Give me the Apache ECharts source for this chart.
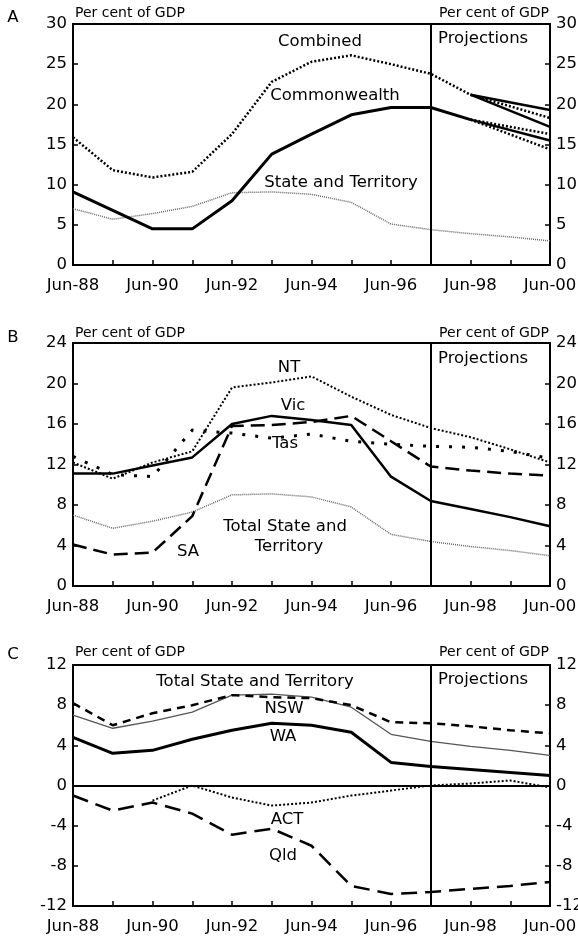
<!DOCTYPE html>
<html>
<head>
<meta charset="utf-8">
<script src="https://cdn.jsdelivr.net/npm/echarts@6/dist/echarts.min.js"></script>
<style>
html,body{margin:0;padding:0;background:#fff;}
#chart{width:578px;height:937px;}
</style>
</head>
<body>
<div id="chart"></div>
<script>
// ---- categories ----
const years = ['Jun-88','Jun-89','Jun-90','Jun-91','Jun-92','Jun-93','Jun-94','Jun-95','Jun-96','Jun-97','Jun-98','Jun-99','Jun-00'];

// ---- Panel A (per cent of GDP) ----
const combined      = [15.9, 11.8, 10.9, 11.6, 16.3, 22.8, 25.3, 26.1, 25.0, 23.8, 21.2, null, null];
const combinedProjA = [null, null, null, null, null, null, null, null, null, null, 21.2, null, 19.3];
const combinedProjB = [null, null, null, null, null, null, null, null, null, null, 21.2, null, 18.3];
const combinedProjC = [null, null, null, null, null, null, null, null, null, null, 21.2, null, 17.2];
const commonwealth  = [9.1, 6.8, 4.5, 4.5, 8.0, 13.8, 16.3, 18.7, 19.6, 19.6, 18.1, null, null];
const cwProjA       = [null, null, null, null, null, null, null, null, null, null, 18.1, null, 16.3];
const cwProjB       = [null, null, null, null, null, null, null, null, null, null, 18.1, null, 15.5];
const cwProjC       = [null, null, null, null, null, null, null, null, null, null, 18.1, null, 14.4];
const stateTotal    = [7.0, 5.7, 6.4, 7.3, 9.0, 9.1, 8.8, 7.8, 5.1, 4.4, 3.9, 3.5, 3.0];

// ---- Panel B ----
const nt  = [12.2, 10.6, 12.2, 13.3, 19.6, 20.1, 20.7, 18.7, 16.9, 15.6, 14.7, 13.5, 12.2];
const vic = [11.1, 11.1, 11.9, 12.7, 16.0, 16.8, 16.4, 15.9, 10.8, 8.4, 7.6, 6.8, 5.9];
const sa  = [4.1, 3.1, 3.3, 6.9, 15.8, 15.9, 16.2, 16.8, 14.3, 11.8, 11.4, 11.1, 10.9];
const tas = [12.8, 11.0, 10.8, 15.4, 15.1, 14.6, 15.0, 14.3, 14.0, 13.8, 13.7, 13.3, 12.6];

// ---- Panel C ----
const nsw = [8.2, 6.0, 7.2, 8.0, 9.0, 8.8, 8.7, 8.0, 6.3, 6.2, 5.9, 5.5, 5.2];
const wa  = [4.8, 3.2, 3.5, 4.6, 5.5, 6.2, 6.0, 5.3, 2.3, 1.9, 1.6, 1.3, 1.0];
const act = [null, null, -1.5, 0.0, -1.2, -2.0, -1.7, -1.0, -0.5, 0.0, 0.2, 0.5, -0.2];
const qld = [-1.0, -2.5, -1.7, -2.8, -4.9, -4.3, -6.0, -10.0, -10.8, -10.6, -10.3, -10.0, -9.6];

// ---- axis scales ----
const yA = {min: 0, max: 30, interval: 5};
const yB = {min: 0, max: 24, interval: 4};
const yC = {min: -12, max: 12, interval: 4};

const FONT = '"DejaVu Sans", sans-serif';
const FS = 16.5;

const grids = [
  {left: 73, right: 28, top: 24, height: 241},
  {left: 73, right: 28, top: 343, height: 243},
  {left: 73, right: 28, top: 665, height: 241}
];

function xAxisFor(i) {
  return {
    type: 'category', gridIndex: i, data: years, boundaryGap: false,
    axisLine: {onZero: false, lineStyle: {color: '#000', width: 2}},
    axisTick: {inside: true, length: 5, interval: 0, lineStyle: {color: '#000', width: 1.5}},
    axisLabel: {interval: 1, margin: 12, color: '#000', fontFamily: FONT, fontSize: FS},
    splitLine: {show: false}
  };
}
function yAxisFor(i, sc, pos) {
  return {
    type: 'value', gridIndex: i, position: pos, min: sc.min, max: sc.max, interval: sc.interval,
    axisLine: {show: true, onZero: false, lineStyle: {color: '#000', width: 2}},
    axisTick: {show: true, inside: true, length: 5, lineStyle: {color: '#000', width: 1.5}},
    axisLabel: {margin: 6, color: '#000', fontFamily: FONT, fontSize: FS},
    splitLine: {show: false}
  };
}

function line(name, data, xi, yi, style, extra) {
  return Object.assign({
    name: name, type: 'line', xAxisIndex: xi, yAxisIndex: yi, data: data,
    symbol: 'none', connectNulls: true, silent: true,
    lineStyle: Object.assign({color: '#000', width: 2.5, type: 'solid'}, style)
  }, extra || {});
}

const vline = {
  symbol: 'none', silent: true, label: {show: false},
  lineStyle: {color: '#000', type: 'solid', width: 2},
  data: [{xAxis: 'Jun-97'}]
};
const vlineZero = {
  symbol: 'none', silent: true, label: {show: false},
  lineStyle: {color: '#000', type: 'solid', width: 2},
  data: [{xAxis: 'Jun-97'}, {yAxis: 0}]
};

const fineDot = {color: '#666', width: 1.5, type: [1, 1]};
const dot = {width: 2.5, type: [2, 2]};

const series = [
  // Panel A
  line('State and Territory', stateTotal, 0, 0, fineDot, {markLine: vline}),
  line('Combined', combined, 0, 0, dot),
  line('Combined proj 1', combinedProjA, 0, 0, {width: 2.5}),
  line('Combined proj 2', combinedProjB, 0, 0, dot),
  line('Combined proj 3', combinedProjC, 0, 0, {width: 2.5}),
  line('Commonwealth', commonwealth, 0, 0, {width: 3}),
  line('Commonwealth proj 1', cwProjA, 0, 0, dot),
  line('Commonwealth proj 2', cwProjB, 0, 0, {width: 2.5}),
  line('Commonwealth proj 3', cwProjC, 0, 0, dot),
  // Panel B
  line('Total State and Territory', stateTotal, 1, 2, fineDot, {markLine: vline}),
  line('NT', nt, 1, 2, {width: 2, type: [2, 2]}),
  line('Tas', tas, 1, 2, {width: 3, type: [3, 10]}),
  line('SA', sa, 1, 2, {width: 2.5, type: [14, 7]}),
  line('Vic', vic, 1, 2, {width: 2.5}),
  // Panel C
  line('Total State and Territory C', stateTotal, 2, 4, {color: '#555', width: 1.3}, {markLine: vlineZero}),
  line('NSW', nsw, 2, 4, {width: 2.5, type: [8, 6]}),
  line('WA', wa, 2, 4, {width: 3}),
  line('ACT', act, 2, 4, {width: 2, type: [2, 2]}),
  line('Qld', qld, 2, 4, {width: 2.5, type: [16, 8]})
];

function txt(t, x, y, opts) {
  return {
    type: 'text', x: x, y: y, silent: true,
    style: Object.assign({text: t, fill: '#000', font: FS + 'px ' + FONT, align: 'center', verticalAlign: 'middle'}, opts || {})
  };
}
const small = {font: '14px ' + FONT};

const graphics = [
  // panel letters
  txt('A', 13, 18), txt('B', 13, 338), txt('C', 13, 655),
  // axis titles
  txt('Per cent of GDP', 75, 13, Object.assign({align: 'left'}, small)),
  txt('Per cent of GDP', 549, 13, Object.assign({align: 'right'}, small)),
  txt('Per cent of GDP', 75, 333, Object.assign({align: 'left'}, small)),
  txt('Per cent of GDP', 549, 333, Object.assign({align: 'right'}, small)),
  txt('Per cent of GDP', 75, 652, Object.assign({align: 'left'}, small)),
  txt('Per cent of GDP', 549, 652, Object.assign({align: 'right'}, small)),
  // panel A labels
  txt('Combined', 320, 42),
  txt('Commonwealth', 335, 96),
  txt('State and Territory', 341, 183),
  txt('Projections', 438, 39, {align: 'left'}),
  // panel B labels
  txt('NT', 289, 368),
  txt('Vic', 293, 406),
  txt('Tas', 285, 444),
  txt('Total State and', 285, 527),
  txt('Territory', 289, 547),
  txt('SA', 188, 552),
  txt('Projections', 438, 359, {align: 'left'}),
  // panel C labels
  txt('Total State and Territory', 255, 682),
  txt('NSW', 284, 709),
  txt('WA', 283, 737),
  txt('ACT', 287, 820),
  txt('Qld', 283, 856),
  txt('Projections', 438, 680, {align: 'left'})
];

const option = {
  animation: false,
  backgroundColor: '#fff',
  grid: grids.map(g => Object.assign({show: true, borderColor: '#000', borderWidth: 2, backgroundColor: 'transparent', containLabel: false, outerBoundsMode: 'none'}, g)),
  xAxis: [xAxisFor(0), xAxisFor(1), xAxisFor(2)],
  yAxis: [
    yAxisFor(0, yA, 'left'), yAxisFor(0, yA, 'right'),
    yAxisFor(1, yB, 'left'), yAxisFor(1, yB, 'right'),
    yAxisFor(2, yC, 'left'), yAxisFor(2, yC, 'right')
  ],
  series: series,
  graphic: graphics
};

const chart = echarts.init(document.getElementById('chart'), null, {renderer: 'canvas'});
chart.setOption(option);
</script>
</body>
</html>
